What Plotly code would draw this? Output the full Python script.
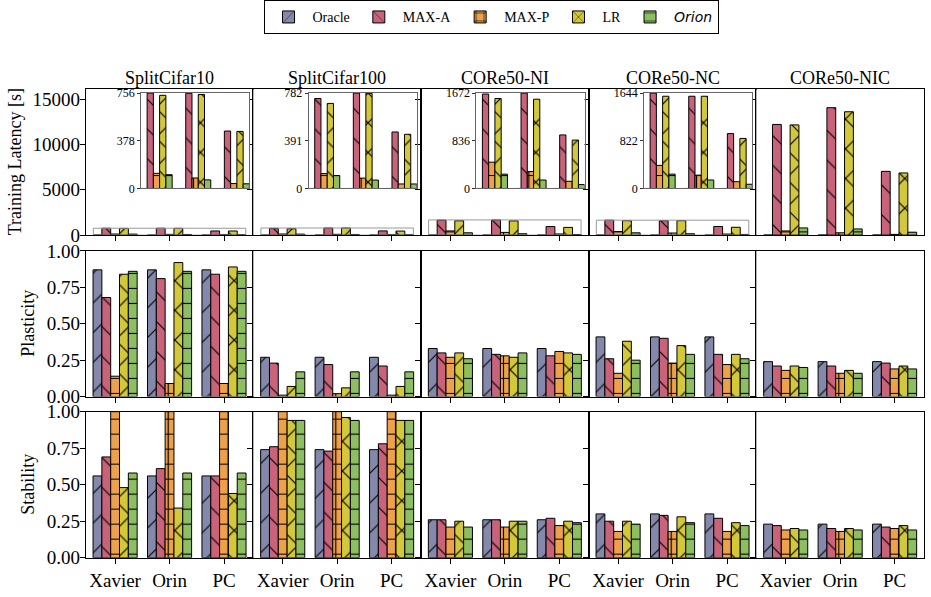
import plotly.graph_objects as go

# ---------------- data ----------------
devices = ["Xavier", "Orin", "PC"]
datasets = ["SplitCifar10", "SplitCifar100", "CORe50-NI", "CORe50-NC", "CORe50-NIC"]
methods = ["Oracle", "MAX-A", "MAX-P", "LR", "Orion"]

# Training latency [s]; one row per dataset, one value per device
lat_oracle = [[0, 0, 0], [0, 0, 0], [0, 0, 0], [0, 0, 0], [0, 0, 0]]
lat_maxa = [[756, 754, 455], [737, 782, 463], [1655, 1672, 938], [1644, 1589, 946], [12200, 14050, 7030]]
lat_maxp = [[120, 83, 39], [122, 85, 37], [461, 297, 126], [398, 230, 117], [460, 250, 80]]
lat_lr = [[738, 745, 452], [697, 780, 444], [1576, 1564, 848], [1589, 1589, 862], [12150, 13600, 6850]]
lat_orion = [[109, 68, 37], [106, 69, 37], [251, 148, 68], [247, 146, 73], [790, 680, 320]]

# Plasticity
pla_oracle = [[0.87, 0.87, 0.87], [0.27, 0.27, 0.27], [0.33, 0.33, 0.33], [0.41, 0.41, 0.41], [0.24, 0.24, 0.24]]
pla_maxa = [[0.68, 0.81, 0.84], [0.23, 0.22, 0.21], [0.30, 0.29, 0.28], [0.26, 0.40, 0.29], [0.21, 0.21, 0.23]]
pla_maxp = [[0.14, 0.09, 0.09], [0.01, 0.02, 0.01], [0.27, 0.28, 0.31], [0.16, 0.23, 0.22], [0.18, 0.16, 0.19]]
pla_lr = [[0.84, 0.92, 0.89], [0.07, 0.06, 0.07], [0.30, 0.27, 0.30], [0.38, 0.35, 0.29], [0.21, 0.18, 0.21]]
pla_orion = [[0.86, 0.86, 0.86], [0.17, 0.17, 0.17], [0.26, 0.30, 0.29], [0.25, 0.29, 0.26], [0.20, 0.16, 0.19]]

# Stability
sta_oracle = [[0.56, 0.56, 0.56], [0.74, 0.74, 0.74], [0.26, 0.26, 0.26], [0.30, 0.30, 0.30], [0.23, 0.23, 0.23]]
sta_maxa = [[0.69, 0.61, 0.56], [0.76, 0.73, 0.78], [0.26, 0.26, 0.27], [0.25, 0.29, 0.27], [0.22, 0.20, 0.21]]
sta_maxp = [[1.0, 1.0, 1.0], [1.0, 1.0, 1.0], [0.21, 0.21, 0.22], [0.18, 0.18, 0.18], [0.19, 0.18, 0.20]]
sta_lr = [[0.48, 0.34, 0.44], [0.94, 0.96, 0.94], [0.25, 0.25, 0.25], [0.25, 0.28, 0.24], [0.20, 0.20, 0.22]]
sta_orion = [[0.58, 0.58, 0.58], [0.94, 0.94, 0.94], [0.21, 0.25, 0.24], [0.23, 0.24, 0.22], [0.19, 0.19, 0.19]]

latency = [lat_oracle, lat_maxa, lat_maxp, lat_lr, lat_orion]
plasticity = [pla_oracle, pla_maxa, pla_maxp, pla_lr, pla_orion]
stability = [sta_oracle, sta_maxa, sta_maxp, sta_lr, sta_orion]
rows_data = [latency, plasticity, stability]
row_titles = ["Training Latency [s]", "Plasticity", "Stability"]
inset_panels = [0, 1, 2, 3]  # datasets that have a zoomed inset

# ---------------- style ----------------
W, H = 931, 597
SERIF = "Liberation Serif"
colors = ["#8488AB", "#C8637A", "#EDA14B", "#D3C83A", "#8DBF62"]
pat_shape = ["/", "\\", "+", "x", "-"]
pat_size = [21, 21, 15, 21, 15]
pat_solid = [0.055, 0.055, 0.15, 0.11, 0.075]
legend_names = ["Oracle", "MAX-A", "MAX-P", "LR",
                "<span style=\"font-family:'DejaVu Sans'\"><i>Orion</i></span>"]

col_x0 = [85.7, 253.3, 421.0, 588.7, 756.3]
col_w = 167.7
row_tb = [(82.3, 233.3), (249.7, 400.7), (416.3, 567.7)]
lat_top = 16064


def px_x(v):
    return v / W


def px_y(v):
    return 1 - v / H


fig = go.Figure()
layout = {}


def ax_name(kind, i):
    return kind + ("axis" if i == 1 else "axis%d" % i)


def ref(kind, i):
    return kind if i == 1 else "%s%d" % (kind, i)


def add_bars(axid, vals_by_method, d, legend):
    for m in range(5):
        fig.add_trace(go.Bar(
            x=devices, y=vals_by_method[m][d],
            name=legend_names[m], legendgroup=methods[m], showlegend=legend,
            xaxis=ref("x", axid), yaxis=ref("y", axid),
            marker=dict(color=colors[m], line=dict(color="black", width=1),
                        pattern=dict(shape=pat_shape[m], size=pat_size[m], solidity=pat_solid[m],
                                     fgcolor="black", fgopacity=1, fillmode="overlay")),
            hoverinfo="skip",
        ))


for r in range(3):
    top, bot = row_tb[r]
    for c in range(5):
        axid = r * 5 + c + 1
        add_bars(axid, rows_data[r], c, legend=(axid == 1))
        layout[ax_name("x", axid)] = dict(
            domain=[px_x(col_x0[c]), px_x(col_x0[c] + col_w)],
            anchor=ref("y", axid), type="category", range=[-0.54, 2.54],
            showticklabels=(r == 2), ticks="outside", ticklen=5, tickwidth=1, tickcolor="black",
            showline=True, mirror=True, linecolor="black", linewidth=1,
            showgrid=False, zeroline=False,
            tickfont=dict(family=SERIF, size=19, color="black"),
        )
        if r == 0:
            yv = [0, 5000, 10000, 15000]
            yt = [str(v) for v in yv]
            yr = [0, lat_top]
        else:
            yv = [0, 0.25, 0.5, 0.75, 1.0]
            yt = ["%.2f" % v for v in yv]
            yr = [0, 1.0]
        layout[ax_name("y", axid)] = dict(
            domain=[px_y(bot), px_y(top)], anchor=ref("x", axid), range=yr,
            tickvals=yv, ticktext=yt, showticklabels=(c == 0),
            ticks="outside", ticklen=5, tickwidth=1, tickcolor="black",
            showline=True, mirror=True, linecolor="black", linewidth=1,
            showgrid=False, zeroline=False, ticklabelstandoff=-4,
            tickfont=dict(family=SERIF, size=19, color="black"),
        )

# ---------------- insets ----------------
shapes = []
for k, d in enumerate(inset_panels):
    axid = 16 + k
    main_id = d + 1
    top, bot = row_tb[0]
    ph = bot - top
    m_max = max(max(latency[m][d]) for m in range(5))
    add_bars(axid, latency, d, legend=False)
    layout[ax_name("x", axid)] = dict(
        domain=[px_x(col_x0[d] + 0.33 * col_w), px_x(col_x0[d] + 0.975 * col_w)],
        anchor=ref("y", axid), type="category", range=[-0.4, 2.4],
        showticklabels=False, ticks="", showline=True, mirror=True,
        linecolor="#666666", linewidth=1, showgrid=False, zeroline=False,
    )
    layout[ax_name("y", axid)] = dict(
        domain=[px_y(bot - 0.32 * ph), px_y(bot - 0.975 * ph)],
        anchor=ref("x", axid), range=[0, m_max],
        tickvals=[0, m_max / 2, m_max], ticktext=[str(int(v)) for v in [0, m_max / 2, m_max]],
        ticks="outside", ticklen=3, tickwidth=1, tickcolor="#333333",
        showline=True, mirror=True, linecolor="#666666", linewidth=1,
        showgrid=False, zeroline=False,
        tickfont=dict(family=SERIF, size=12, color="black"),
    )
    shapes.append(dict(type="rect", xref=ref("x", main_id), yref=ref("y", main_id),
                       x0=-0.4, x1=2.4, y0=0, y1=m_max,
                       line=dict(color="#999999", width=1), fillcolor="rgba(0,0,0,0)", layer="above"))

# ---------------- text ----------------
annotations = []
for c in range(5):
    annotations.append(dict(text=datasets[c], xref="paper", yref="paper",
                            x=px_x(col_x0[c] + col_w / 2), y=px_y(70), xanchor="center", yanchor="middle",
                            showarrow=False, font=dict(family=SERIF, size=18, color="black")))
title_x = [15, 28, 28]
for r in range(3):
    top, bot = row_tb[r]
    annotations.append(dict(text=row_titles[r], xref="paper", yref="paper",
                            x=px_x(title_x[r]), y=px_y((top + bot) / 2), xanchor="center", yanchor="middle",
                            textangle=-90, showarrow=False,
                            font=dict(family=SERIF, size=18, color="black")))

layout.update(dict(
    width=W, height=H, margin=dict(l=0, r=0, t=0, b=0),
    paper_bgcolor="white", plot_bgcolor="white",
    barmode="group", bargap=0.19, bargroupgap=0,
    shapes=shapes, annotations=annotations,
    legend=dict(orientation="h", x=px_x(491), y=px_y(-10), xanchor="center", yanchor="top",
                bordercolor="black", borderwidth=1, bgcolor="white", itemwidth=38,
                font=dict(family=SERIF, size=14, color="black"), traceorder="normal"),
    showlegend=True,
))
fig.update_layout(layout)
fig.write_html("out.html")
